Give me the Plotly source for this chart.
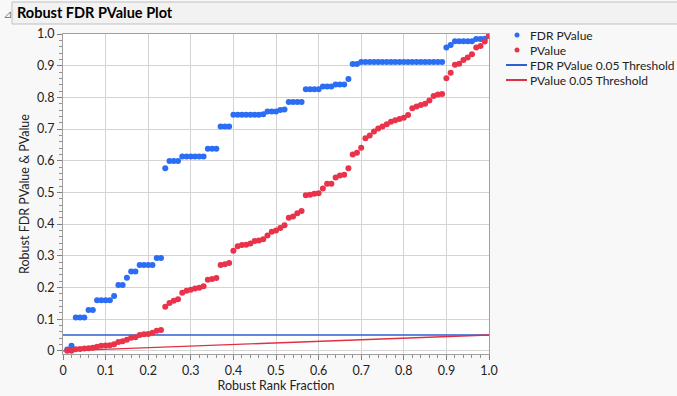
import plotly.graph_objects as go

rank_fraction = [i / 100 for i in range(1, 101)]

pvalue = [
    0.0002, 0.0004, 0.005, 0.006, 0.007, 0.008, 0.010, 0.013, 0.016, 0.017,
    0.018, 0.021, 0.028, 0.030, 0.035, 0.041, 0.043, 0.050, 0.052, 0.053,
    0.057, 0.063, 0.066, 0.139, 0.151, 0.158, 0.163, 0.183, 0.190, 0.193,
    0.197, 0.199, 0.204, 0.224, 0.227, 0.230, 0.271, 0.273, 0.277, 0.316,
    0.330, 0.334, 0.335, 0.339, 0.347, 0.348, 0.352, 0.364, 0.376, 0.380,
    0.388, 0.396, 0.420, 0.424, 0.434, 0.441, 0.491, 0.493, 0.496, 0.497,
    0.512, 0.527, 0.527, 0.547, 0.553, 0.556, 0.576, 0.620, 0.625, 0.641,
    0.671, 0.680, 0.692, 0.702, 0.708, 0.715, 0.723, 0.728, 0.732, 0.736,
    0.744, 0.766, 0.771, 0.776, 0.780, 0.790, 0.804, 0.809, 0.811, 0.860,
    0.878, 0.903, 0.906, 0.918, 0.926, 0.936, 0.957, 0.962, 0.976, 0.994,
]

fdr_pvalue = [
    0.004, 0.016, 0.105, 0.105, 0.105, 0.129, 0.129, 0.160, 0.160, 0.160,
    0.160, 0.173, 0.208, 0.208, 0.231, 0.250, 0.250, 0.271, 0.271, 0.271,
    0.271, 0.293, 0.293, 0.576, 0.599, 0.599, 0.599, 0.613, 0.613, 0.613,
    0.613, 0.613, 0.613, 0.638, 0.638, 0.638, 0.708, 0.708, 0.708, 0.745,
    0.745, 0.745, 0.745, 0.745, 0.745, 0.745, 0.747, 0.755, 0.755, 0.755,
    0.760, 0.762, 0.785, 0.785, 0.785, 0.785, 0.826, 0.826, 0.826, 0.826,
    0.834, 0.834, 0.834, 0.841, 0.841, 0.841, 0.858, 0.905, 0.905, 0.912,
    0.912, 0.912, 0.912, 0.912, 0.912, 0.912, 0.912, 0.912, 0.912, 0.912,
    0.912, 0.912, 0.912, 0.912, 0.912, 0.912, 0.912, 0.912, 0.912, 0.957,
    0.965, 0.977, 0.977, 0.977, 0.977, 0.977, 0.984, 0.984, 0.985, 0.994,
]

threshold_x = [0.0, 1.0]
fdr_threshold = [0.05, 0.05]
p_threshold = [0.0, 0.05]

tick_vals = [0, 0.1, 0.2, 0.3, 0.4, 0.5, 0.6, 0.7, 0.8, 0.9, 1.0]
tick_text = ["0", "0.1", "0.2", "0.3", "0.4", "0.5", "0.6", "0.7", "0.8", "0.9", "1.0"]

legend_labels = ["FDR PValue", "PValue", "FDR PValue 0.05 Threshold", "PValue 0.05 Threshold"]

BLUE = "#2B6DF3"
RED = "#E8334B"
BLUE_LINE = "#2F5FD0"
RED_LINE = "#E0303F"
FONT = "Lato"

# plot area in pixels: x 63..489, y 34..354
L, R, T, B = 63, 489, 34, 354
W, H = 677, 396


def px(x):
    return (x - L) / (R - L)


def py(y):
    return (B - y) / (B - T)


fig = go.Figure()
fig.add_trace(go.Scatter(x=threshold_x, y=fdr_threshold, mode="lines", name=legend_labels[2],
                         line=dict(color=BLUE_LINE, width=1.3), showlegend=False))
fig.add_trace(go.Scatter(x=threshold_x, y=p_threshold, mode="lines", name=legend_labels[3],
                         line=dict(color=RED_LINE, width=1.3), showlegend=False))
fig.add_trace(go.Scatter(x=rank_fraction, y=fdr_pvalue, mode="markers", name=legend_labels[0],
                         marker=dict(color=BLUE, size=6), showlegend=False))
fig.add_trace(go.Scatter(x=rank_fraction, y=pvalue, mode="markers", name=legend_labels[1],
                         marker=dict(color=RED, size=6), showlegend=False))

axis_common = dict(
    showgrid=True, gridcolor="#D3D3D3", gridwidth=1,
    showline=True, linecolor="#A0A0A0", linewidth=1, mirror=True,
    ticks="outside", ticklen=5, tickcolor="#808080",
    minor=dict(ticks="outside", ticklen=3, tickcolor="#909090", dtick=0.02, showgrid=False),
    tickvals=tick_vals, ticktext=tick_text,
    tickfont=dict(family=FONT, size=12.5, color="#222222"),
    zeroline=False,
)

fig.update_layout(
    width=W, height=H,
    margin=dict(l=L, r=W - R, t=T, b=H - B, autoexpand=False),
    paper_bgcolor="#F8F8F8",
    plot_bgcolor="#FFFFFF",
    font=dict(family=FONT, size=12.5, color="#222222"),
    xaxis=dict(range=[0, 1.0], title=dict(text="Robust Rank Fraction", standoff=4,
                                          font=dict(family=FONT, size=12.5)), **axis_common),
    yaxis=dict(range=[-0.01, 1.0], title=dict(text="Robust FDR PValue & PValue", standoff=4,
                                              font=dict(family=FONT, size=12.5)), **axis_common),
    showlegend=False,
)

# title bar
fig.add_shape(type="rect", xref="paper", yref="paper", x0=px(12), x1=px(680), y0=py(24), y1=py(2),
              fillcolor="#F2F2F2", line=dict(color="#C0C0C0", width=1), layer="below")
fig.add_annotation(text="<b>Robust FDR PValue Plot</b>", xref="paper", yref="paper",
                   x=px(15), y=py(13), xanchor="left", yanchor="middle", showarrow=False,
                   font=dict(family=FONT, size=14.5, color="#000000"))
fig.add_annotation(text="⊿", xref="paper", yref="paper",
                   x=px(1), y=py(14), xanchor="left", yanchor="middle", showarrow=False,
                   font=dict(family="DejaVu Sans", size=11, color="#808080"))

# manual legend
leg_rows = [35, 50, 65, 80]
for k, label in enumerate(legend_labels):
    yy = py(leg_rows[k])
    if k == 0 or k == 1:
        col = BLUE if k == 0 else RED
        fig.add_shape(type="circle", xref="paper", yref="paper",
                      x0=px(514.5), x1=px(519.5), y0=py(leg_rows[k] + 2.5), y1=py(leg_rows[k] - 2.5),
                      fillcolor=col, line=dict(color=col, width=0))
    else:
        col = BLUE_LINE if k == 2 else RED_LINE
        fig.add_shape(type="line", xref="paper", yref="paper",
                      x0=px(506), x1=px(527), y0=yy, y1=yy, line=dict(color=col, width=2))
    fig.add_annotation(text=label, xref="paper", yref="paper", x=px(528), y=yy,
                       xanchor="left", yanchor="middle", showarrow=False,
                       font=dict(family=FONT, size=12, color="#222222"))

fig.write_html("out.html", config={"displayModeBar": False},
               post_script="document.body.style.margin='0';document.body.style.overflow='hidden';")
